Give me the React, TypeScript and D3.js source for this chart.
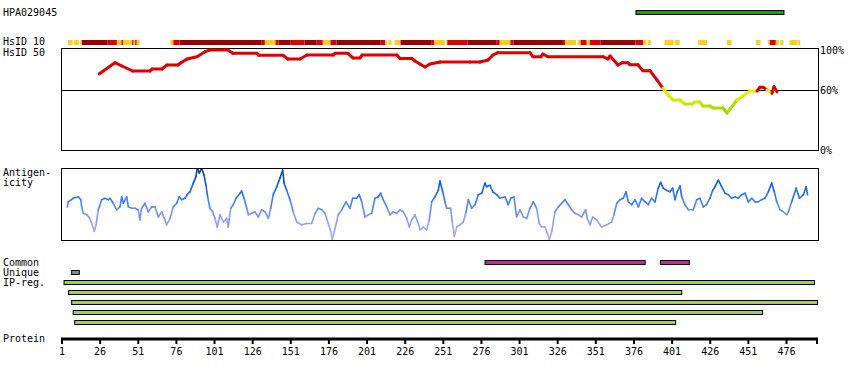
import React from "react";
import * as d3 from "d3";

const PROTEIN_LENGTH = 496;
const AXIS_TICKS = [1, 26, 51, 76, 101, 126, 151, 176, 201, 226, 251, 276, 301, 326, 351, 376, 401, 426, 451, 476];
const PCT_LABELS = [100, 60, 0];

// HsID 10 strip: [start, end, level] level 1 = yellow, 2 = red, 3 = dark red
const HSID10: [number, number, number][] = [
  [5, 8, 1], [9, 12, 1], [13, 14, 1], [14, 31, 3], [31, 37, 2], [37, 40, 1], [40, 41, 2],
  [41, 47, 1], [47, 48, 2], [48, 49, 1], [49, 50, 2], [50, 52, 1],
  [72, 74, 1], [74, 78, 2], [78, 132, 3], [132, 134, 2], [134, 141, 1], [141, 143, 2],
  [143, 151, 3], [151, 160, 2], [160, 168, 3], [168, 172, 2], [172, 177, 1], [177, 181, 2],
  [181, 210, 3], [210, 213, 2], [213, 214, 1], [215, 217, 1], [219, 223, 1], [223, 243, 3],
  [243, 245, 2], [245, 252, 1], [253, 253.6, 1], [253.6, 267, 2], [267, 286, 3], [286, 288, 2],
  [288, 295, 1], [295, 297, 2], [297, 330, 3], [330, 331, 2], [331, 338, 1], [339, 341, 1],
  [341, 345, 2], [345, 347, 1], [347, 354, 2], [354, 377, 3], [377, 382, 2], [382, 384, 1],
  [385, 387, 1], [396, 402, 1], [403, 406, 1], [418, 424, 1], [437, 440, 1], [456, 459, 1],
  [464, 465, 1], [465, 469, 2], [469, 471, 1], [472, 474, 1], [478, 483, 1], [483.6, 485, 1],
];

// HsID 50 identity (%): [residue, percent]
const HSID50: [number, number][] = [
  [25.3, 76], [35.7, 87.3], [40.3, 84], [47.4, 79], [58.7, 79], [60, 81], [66.6, 81], [69.8, 85],
  [77, 85], [79, 87.3], [83, 91], [89.5, 93.3], [94.8, 98.3], [98, 100], [109.8, 100], [113, 96.7],
  [128.8, 96.7], [130, 94.7], [145.9, 94.7], [149, 91], [157, 91], [161.6, 95], [178.7, 95],
  [180, 96.7], [188.5, 96.7], [191.8, 92], [196.4, 92], [197.7, 95], [220.6, 95], [222.6, 91.5],
  [230.5, 91.5], [232.4, 89], [235.7, 86], [239, 83], [242.3, 86], [248.8, 88], [268.5, 88],
  [275, 88], [280.3, 90], [283.6, 95], [286.2, 97], [286.8, 97.3], [307.8, 97.3], [309.8, 93.3],
  [315, 93.3], [316.3, 96], [319.6, 93.3], [355.7, 93.3], [359, 91], [360.3, 94], [365.5, 85],
  [368.1, 87.3], [372, 87.3], [373.4, 85.3], [378.6, 85.3], [381.9, 79.3], [386.5, 79.3],
  [391.1, 70], [395, 61.7], [398.3, 55], [401.6, 50], [406.2, 50], [409.4, 46], [414, 46],
  [416, 48], [419.3, 48], [421.2, 44], [425.8, 44], [427.8, 42], [434.4, 42], [437, 37],
  [443.5, 50], [446.8, 53.3], [452, 59], [456.7, 59], [458.6, 62.7], [460.6, 62.7], [463.2, 60],
  [466.5, 56.7], [467.8, 63.3], [469.8, 58.3],
];

// Antigenicity score (0-100): [residue, value]
const ANTIGENICITY: [number, number][] = [
  [4.5, 46], [5.1, 53], [8.4, 58], [11.7, 60], [13.3, 56], [13.9, 46], [15, 37], [17.2, 35],
  [18.9, 31], [20.5, 23], [22.2, 12], [23.3, 21], [24.8, 42], [27, 56], [29.2, 58], [31.4, 56],
  [32.5, 58], [34.6, 51], [36.9, 42], [39, 46], [40.1, 60], [41.2, 51], [43.4, 60], [44.5, 46],
  [46.7, 44], [48.9, 44], [51, 42], [52.1, 28], [53.2, 44], [55.4, 51], [57.6, 39], [59.8, 46],
  [62, 46], [64.1, 32], [66.4, 39], [68.5, 28], [69.6, 21], [71.8, 30], [74, 46], [76.2, 51],
  [77.9, 60], [79.5, 56], [81.6, 58], [83.1, 63], [84.9, 67], [87.1, 79], [88.8, 88], [89.7, 100],
  [91, 93], [92.6, 100], [94.1, 90], [95.4, 76], [96.5, 60], [98, 44], [99.8, 39], [101.3, 30],
  [102.8, 18], [104.6, 35], [106.8, 25], [109, 30], [110, 18], [111.6, 44], [113.3, 49],
  [115.1, 58], [117.7, 65], [118.8, 68], [120.3, 58], [122.1, 44], [123.2, 35], [125.4, 37],
  [127.5, 39], [129.7, 32], [131.9, 42], [134.1, 39], [136.3, 30], [137.8, 44], [139.5, 63],
  [141.8, 74], [143.9, 86], [145.7, 97], [146.6, 79], [148.3, 69], [150.5, 56], [152.6, 39],
  [154.9, 25], [158.1, 21], [161.4, 23], [164.7, 23], [166.9, 37], [169, 44], [171.3, 42],
  [173.4, 37], [175.6, 23], [177.2, 12], [178.2, 1], [180, 16], [182.1, 35], [184.4, 42],
  [187.2, 53], [189.8, 44], [191.6, 58], [194.2, 58], [195.9, 63], [197.5, 53], [199.7, 32],
  [201.8, 35], [204, 37], [206.2, 58], [208.4, 60], [209.9, 65], [211.6, 56], [213.9, 46],
  [216, 35], [218.2, 39], [220.4, 37], [222.6, 42], [224.8, 39], [227, 30], [228.7, 18],
  [230.3, 28], [232.4, 35], [234.6, 23], [235.7, 14], [237.9, 18], [240.1, 14], [241.8, 28],
  [243.4, 53], [245.5, 60], [247.7, 69], [248.8, 82], [250.6, 67], [252.1, 53], [253.2, 44],
  [255.8, 44], [256.9, 25], [258.2, 5], [259.8, 18], [261.9, 21], [264.1, 25], [265.9, 39],
  [267.4, 56], [269.6, 44], [271.8, 49], [273.9, 63], [276.2, 65], [278.3, 79], [279.4, 74],
  [281.6, 76], [283.4, 67], [286, 63], [288.1, 58], [291.4, 60], [293.6, 49], [295.2, 58],
  [297.3, 60], [299.1, 32], [301.3, 42], [303.4, 32], [305.7, 30], [307.8, 44], [310, 53],
  [312.2, 44], [313.9, 23], [315.5, 18], [317.7, 18], [319.2, 9], [320.5, 1], [322.1, 12],
  [324.2, 39], [326.4, 46], [328.6, 51], [330.8, 56], [333, 49], [335.2, 42], [337.3, 37],
  [339.5, 35], [341.7, 32], [344.3, 42], [345.4, 30], [347.2, 21], [348.9, 32], [351.5, 28],
  [354.8, 18], [358.1, 21], [361.4, 25], [362.9, 35], [364.7, 51], [366.8, 56], [369, 58],
  [370.8, 67], [372.3, 53], [374.5, 49], [376.7, 56], [378.9, 46], [381, 58], [383.2, 53],
  [385.4, 49], [387.6, 58], [389.8, 53], [391.9, 72], [393.5, 80], [395.2, 72], [397.4, 69],
  [399.6, 67], [401.4, 72], [402.9, 56], [404.4, 67], [406.2, 75], [407.3, 60], [409.4, 49],
  [411.6, 42], [414.9, 42], [417.1, 56], [419.3, 58], [421.4, 46], [423.6, 49], [425.8, 58],
  [427.6, 69], [429.1, 74], [431.3, 83], [433.5, 74], [435.7, 65], [437.8, 63], [440, 58],
  [442.2, 60], [444.4, 58], [446.6, 63], [448.8, 65], [451, 53], [453.2, 58], [455.3, 53],
  [457.5, 53], [459.7, 56], [461.9, 58], [464.1, 67], [466.3, 79], [468, 67], [469.6, 53],
  [471.8, 42], [474, 39], [476.2, 35], [477.2, 39], [479.4, 53], [482.3, 72], [484.5, 58],
  [487.1, 63], [488.9, 74], [489.8, 63],
];

const TOP_BAR: [number, number] = [377, 474];
const COMMON_BARS: [number, number][] = [[278, 383], [393, 412]];
const UNIQUE_BARS: [number, number][] = [[7, 12]];
const IPREG_BARS: [number, number][] = [[2, 494], [5, 407], [7, 496], [8, 460], [9, 403]];

const FONT = "'DejaVu Sans Mono', monospace";

export default function App() {
  const x = d3.scaleLinear().domain([1, PROTEIN_LENGTH]).range([62, 817]);
  const yId = d3.scaleLinear().domain([0, 100]).range([150, 50]);
  const yAg = d3.scaleLinear().domain([0, 100]).range([240, 168]);

  const heatColor = (l: number) => (l === 1 ? "#ffcc22" : l === 2 ? "#e00000" : "#9c0000");
  const idColor = (v: number) =>
    v >= 60
      ? "#e00000"
      : d3.scaleLinear<string>().domain([37, 48, 60]).range(["#88cc00", "#ccee00", "#eeee00"]).clamp(true)(v);
  const agColor = d3
    .scaleLinear<string>()
    .domain([0, 30, 55, 75, 100])
    .range(["#b0a8ff", "#8a9cff", "#3a7dff", "#0a62e6", "#003a8c"])
    .clamp(true);

  const idSegs = HSID50.slice(1).map((p, i) => {
    const q = HSID50[i];
    return { x1: x(q[0]), y1: yId(q[1]), x2: x(p[0]), y2: yId(p[1]), c: idColor((p[1] + q[1]) / 2) };
  });
  const agSegs = ANTIGENICITY.slice(1).map((p, i) => {
    const q = ANTIGENICITY[i];
    return { x1: x(q[0]), y1: yAg(q[1]), x2: x(p[0]), y2: yAg(p[1]), c: agColor((p[1] + q[1]) / 2) };
  });

  const bar = (b: [number, number], y: number, fill: string, key: string) => (
    <rect key={key} x={x(b[0]) + 0.5} y={y + 0.5} width={x(b[1]) - x(b[0])} height={4} fill={fill} stroke="#000" strokeWidth={1} />
  );

  const txt = (t: string, xx: number, yy: number, key: string, anchor = "start") => (
    <text key={key} x={xx} y={yy} textAnchor={anchor} fontFamily={FONT} fontSize={10} fill="#000">
      {t}
    </text>
  );

  return (
    <svg width={850} height={380} style={{ position: "absolute", left: 0, top: 0, background: "#fff" }}>
      <defs>
        <clipPath id="agclip">
          <rect x={62} y={169} width={756} height={71} />
        </clipPath>
      </defs>
      {txt("HPA029045", 3, 16, "t0")}
      {bar(TOP_BAR, 10, "#1e9a1e", "top")}

      {txt("HsID 10", 3, 45, "t1")}
      {txt("HsID 50", 3, 55.5, "t2")}
      {HSID10.map((s, i) => (
        <rect key={"h" + i} x={x(s[0])} y={40} width={x(s[1]) - x(s[0])} height={5} fill={heatColor(s[2])} />
      ))}

      <rect x={61.5} y={48.5} width={757} height={102} fill="none" stroke="#000" strokeWidth={1} />
      <line x1={62} x2={818} y1={Math.round(yId(60)) + 0.5} y2={Math.round(yId(60)) + 0.5} stroke="#000" strokeWidth={1} />
      {PCT_LABELS.map((p) => txt(p + "%", 820, yId(p) + 3.5, "p" + p))}
      {idSegs.map((s, i) => (
        <line key={"i" + i} x1={s.x1} y1={s.y1} x2={s.x2} y2={s.y2} stroke={s.c} strokeWidth={3} strokeLinecap="round" />
      ))}

      {txt("Antigen-", 3, 176, "t3")}
      {txt("icity", 3, 185.5, "t4")}
      <rect x={61.5} y={168.5} width={757} height={72} fill="none" stroke="#000" strokeWidth={1} />
      <g clipPath="url(#agclip)">
        {agSegs.map((s, i) => (
          <line key={"a" + i} x1={s.x1} y1={s.y1} x2={s.x2} y2={s.y2} stroke={s.c} strokeWidth={1.6} strokeLinecap="round" />
        ))}
      </g>

      {txt("Common", 3, 266, "t5")}
      {txt("Unique", 3, 276, "t6")}
      {txt("IP-reg.", 3, 286, "t7")}
      {COMMON_BARS.map((b, i) => bar(b, 260, "#cc22aa", "c" + i))}
      {UNIQUE_BARS.map((b, i) => bar(b, 270, "#888888", "u" + i))}
      {IPREG_BARS.map((b, i) => bar(b, 280 + i * 10, "#a0cc60", "r" + i))}

      {txt("Protein", 3, 342, "t8")}
      <line x1={x(1) - 1} x2={x(PROTEIN_LENGTH) + 1} y1={339} y2={339} stroke="#000" strokeWidth={3} />
      {[...AXIS_TICKS, PROTEIN_LENGTH].map((t) => (
        <line key={"k" + t} x1={x(t)} x2={x(t)} y1={339} y2={344} stroke="#000" strokeWidth={2} />
      ))}
      {AXIS_TICKS.map((t) => txt(String(t), x(t), 354.5, "l" + t, "middle"))}
    </svg>
  );
}
